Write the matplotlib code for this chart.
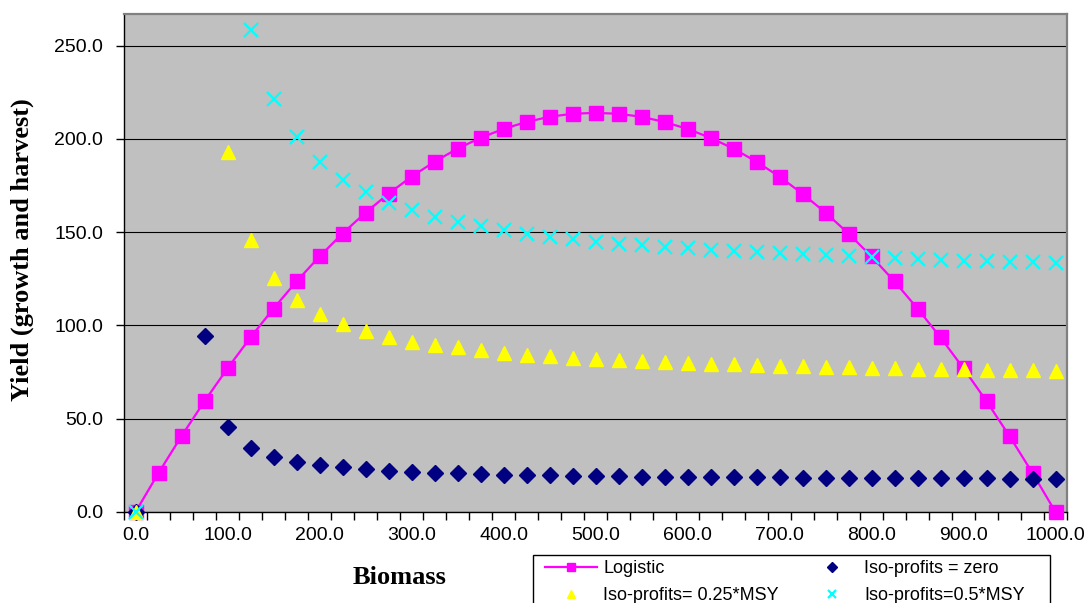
import numpy as np
import matplotlib
matplotlib.use("Agg")
import matplotlib.pyplot as plt
from matplotlib.patches import Rectangle

# biomass categories (x axis)
biomass = [0, 25, 50, 75, 100, 125, 150, 175, 200, 225, 250, 275, 300, 325, 350,
           375, 400, 425, 450, 475, 500, 525, 550, 575, 600, 625, 650, 675, 700,
           725, 750, 775, 800, 825, 850, 875, 900, 925, 950, 975, 1000]

logistic = [0, 20.9, 40.7, 59.4, 77.0, 93.6, 109.1, 123.6, 137.0, 149.3, 160.5,
            170.6, 179.8, 187.8, 194.8, 200.6, 205.4, 209.1, 211.9, 213.5, 214.0,
            213.5, 211.9, 209.1, 205.4, 200.6, 194.8, 187.8, 179.8, 170.6, 160.5,
            149.3, 137.0, 123.6, 109.1, 93.6, 77.0, 59.4, 40.7, 20.9, 0]

iso_zero = [0, np.nan, np.nan, 94.6, 45.4, 34.5, 29.7, 27.0, 25.2, 23.9, 22.9,
            22.1, 21.6, 21.1, 20.7, 20.4, 20.1, 19.8, 19.6, 19.4, 19.2,
            19.1, 19.0, 18.9, 18.8, 18.7, 18.6, 18.5, 18.5, 18.4, 18.3,
            18.3, 18.2, 18.2, 18.1, 18.1, 18.0, 18.0, 17.9, 17.9, 17.9]

iso_025 = [0, np.nan, np.nan, np.nan, 192.8, 145.8, 125.4, 113.6, 106.4, 100.9, 96.9,
           93.9, 91.4, 89.6, 88.2, 86.7, 85.5, 84.4, 83.7, 82.8, 82.1,
           81.6, 81.0, 80.5, 79.9, 79.6, 79.2, 78.9, 78.5, 78.2, 77.8,
           77.6, 77.4, 77.1, 76.9, 76.7, 76.6, 76.4, 76.2, 76.0, 75.8]

iso_05 = [0, np.nan, np.nan, np.nan, np.nan, 258.2, 221.6, 200.8, 187.6, 178.1, 171.3,
          165.8, 161.7, 158.4, 155.6, 153.1, 151.1, 149.3, 147.7, 146.3, 145.0,
          143.9, 143.1, 142.2, 141.3, 140.4, 139.8, 139.4, 138.8, 138.4, 137.8,
          137.3, 136.7, 136.2, 135.7, 135.2, 134.8, 134.5, 134.3, 134.0, 133.7]

x_labels = [0, 100, 200, 300, 400, 500, 600, 700, 800, 900, 1000]
y_ticks = [0, 50, 100, 150, 200, 250]

plt.rcParams['font.family'] = ['Liberation Sans', 'DejaVu Sans']

fig = plt.figure(figsize=(10.91, 6.03), dpi=100)
ax = fig.add_axes([124/1091, 1 - 512/603, (1067-124)/1091, (512-14)/603])
ax.set_facecolor('#C0C0C0')

l1, = ax.plot(biomass, logistic, color='#FF00FF', lw=1.6, marker='s', ms=10.5,
              mec='#FF00FF', label='Logistic', zorder=3, clip_on=False)
l2, = ax.plot(biomass, iso_zero, ls='none', marker='D', ms=8.5, color='#000080',
              label='Iso-profits = zero', zorder=4, clip_on=False)
l3, = ax.plot(biomass, iso_025, ls='none', marker='^', ms=10.5, color='#FFFF00',
              label='Iso-profits= 0.25*MSY', zorder=5, clip_on=False)
l4, = ax.plot(biomass, iso_05, ls='none', marker='x', ms=10, mew=1.6, color='#00FFFF',
              label='Iso-profits=0.5*MSY', zorder=6, clip_on=False)

ax.set_xlim(-12.5, 1012.5)
ax.set_ylim(0, 267)

ax.set_xticks(x_labels)
ax.set_xticklabels(['%.1f' % v for v in x_labels])
ax.set_xticks([-12.5 + 25 * k for k in range(42)], minor=True)
ax.tick_params(axis='x', which='major', length=0, pad=11, labelsize=14)
ax.tick_params(axis='x', which='minor', length=6, width=1, direction='out')

ax.set_yticks(y_ticks)
ax.set_yticklabels(['%.1f' % v for v in y_ticks])
ax.tick_params(axis='y', length=6, width=1, direction='out', pad=9, labelsize=14)

ax.grid(axis='y', color='black', lw=0.8, zorder=1)
ax.set_axisbelow(True)

for s in ['left', 'bottom']:
    ax.spines[s].set_color('black')
    ax.spines[s].set_linewidth(1)
for s in ['top', 'right']:
    ax.spines[s].set_color('#808080')
    ax.spines[s].set_linewidth(1.6)

fig.text(22/1091, 1 - 250/603, 'Yield (growth and harvest)', rotation=90,
         ha='center', va='center', fontsize=19, fontweight='bold',
         family='Liberation Serif')
fig.text(400/1091, 1 - 577/603, 'Biomass', ha='center', va='center',
         fontsize=19, fontweight='bold', family='Liberation Serif')

# legend box (cut by figure edge)
fig.patches.append(Rectangle((533/1091, -0.05), 517/1091, 0.05 + (1 - 555/603),
                             transform=fig.transFigure, fill=False,
                             edgecolor='black', lw=1))
fig.legend(handles=[l1, l3, l2, l4], ncol=2, loc='upper left',
           bbox_to_anchor=(545/1091, 1 - 560/603), frameon=False,
           fontsize=13, borderpad=0, borderaxespad=0, handlelength=2.9,
           handletextpad=0.33, columnspacing=1.5, labelspacing=0.55,
           markerscale=0.6, numpoints=1)

fig.savefig('out.png', dpi=100)
